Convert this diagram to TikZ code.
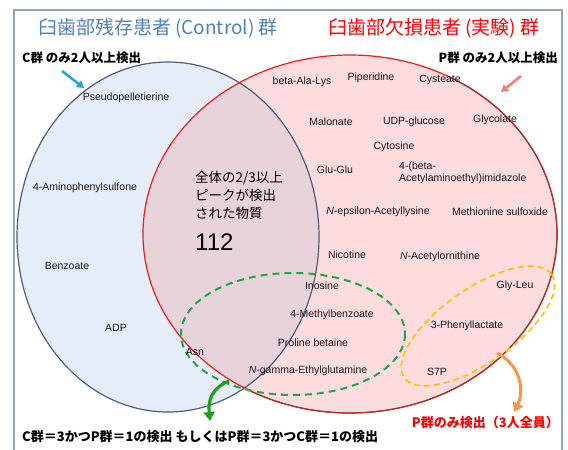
\documentclass[tikz,border=0pt]{standalone}
\usepackage{fontspec}
\setmainfont{Liberation Sans}
\newfontfamily\jp{Noto Sans CJK JP}
\usetikzlibrary{arrows.meta}
\definecolor{titleblue}{HTML}{4F81BD}
\definecolor{titlered}{HTML}{FF0000}
\definecolor{bluefill}{HTML}{E4EDF8}
\definecolor{pinkfill}{HTML}{FCDCDC}
\definecolor{overlapc}{HTML}{E8D3DA}
\definecolor{bluestroke}{HTML}{4E5F7D}
\definecolor{redstroke}{HTML}{F01C1C}
\definecolor{darkredc}{HTML}{A83232}
\definecolor{greendash}{HTML}{1FA84A}
\definecolor{greenarrow}{HTML}{1E9E1E}
\definecolor{yellowc}{HTML}{FFC000}
\definecolor{orangec}{HTML}{F79646}
\definecolor{cyanc}{HTML}{1DA5E0}
\definecolor{pinkarrow}{HTML}{F77B7B}
\definecolor{framec}{HTML}{8FA5C0}
\begin{document}
\begin{tikzpicture}[x=1pt,y=-1pt,
  lab/.style={font=\fontsize{10.5}{12}\selectfont, inner sep=0pt, text=black!90},
  title/.style={font=\jp\fontsize{19}{22}\selectfont, inner sep=0pt},
  note/.style={font=\jp\bfseries\fontsize{12.5}{14}\selectfont, inner sep=0pt},
  bignote/.style={font=\jp\bfseries\fontsize{13}{15}\selectfont, inner sep=0pt},
  pointer/.style={line width=2.5pt, -{Triangle[length=7pt,width=8pt]}},
  curvy/.style={line width=3.2pt, -{Triangle[length=9pt,width=11pt]}}
]
\useasboundingbox (0,0) rectangle (568,450);
% frame
\draw[framec, line width=1.2pt] (14,450) -- (14,10) -- (562,10) -- (562,450);
% set fills
\fill[bluefill] (168,237) ellipse [x radius=151, y radius=175];
\fill[pinkfill] (350,234) ellipse [x radius=207, y radius=179];
\begin{scope}
  \clip (168,237) ellipse [x radius=151, y radius=175];
  \fill[overlapc] (350,234) ellipse [x radius=207, y radius=179];
\end{scope}
% set outlines
\draw[bluestroke, line width=1.2pt] (168,237) ellipse [x radius=151, y radius=175];
\draw[redstroke, line width=1.2pt] (350,234) ellipse [x radius=207, y radius=179];
\draw[darkredc, line width=1.2pt] ([shift={(-60:207 and 179)}]350,234) arc[start angle=-60, end angle=120, x radius=207, y radius=179];
% dashed groups
\draw[greendash, line width=2pt, dash pattern=on 7pt off 5pt] (293,334) ellipse [x radius=112, y radius=61];
\draw[yellowc, line width=1.6pt, dash pattern=on 6pt off 4pt, rotate around={35:(478,326)}] (478,326) ellipse [x radius=90, y radius=37];
% titles
\node[title, text=titleblue] (t1) at (158,28) {臼歯部残存患者 (Control) 群};
\node[title, text=titlered] (t2) at (434,28) {臼歯部欠損患者 (実験) 群};
\node[note, anchor=west] (c2) at (22,58) {C群 のみ2人以上検出};
\node[note, anchor=east] (p2) at (558,58) {P群 のみ2人以上検出};
% metabolites
\node[lab] (m1) at (126,98) {Pseudopelletierine};
\node[lab] (m2) at (85,188) {4-Aminophenylsulfone};
\node[lab] (m3) at (67,266) {Benzoate};
\node[lab] (m4) at (116,328) {ADP};
\node[lab] (m5) at (195,352) {Asn};
\node[lab] (m6) at (302,82) {beta-Ala-Lys};
\node[lab] (m7) at (371,78) {Piperidine};
\node[lab] (m8) at (440,80) {Cysteate};
\node[lab] (m9) at (331,122) {Malonate};
\node[lab] (m10) at (414,122) {UDP-glucose};
\node[lab] (m11) at (495,120) {Glycolate};
\node[lab] (m12) at (394,147) {Cytosine};
\node[lab] (m13) at (335,170) {Glu-Glu};
\node[lab, anchor=north west, align=left] (m14) at (399,162) {4-(beta-\\Acetylaminoethyl)imidazole};
\node[lab] (m15) at (378,212) {\textit{N}-epsilon-Acetyllysine};
\node[lab] (m16) at (500,212) {Methionine sulfoxide};
\node[lab] (m17) at (347,255) {Nicotine};
\node[lab] (m18) at (440,257) {\textit{N}-Acetylornithine};
\node[lab] (m19) at (322,286) {Inosine};
\node[lab] (m20) at (332,315) {4-Methylbenzoate};
\node[lab] (m21) at (313,343) {Proline betaine};
\node[lab] (m22) at (308,371) {\textit{N}-gamma-Ethylglutamine};
\node[lab] (m23) at (515,286) {Gly-Leu};
\node[lab] (m24) at (467,326) {3-Phenyllactate};
\node[lab] (m25) at (437,372) {S7P};
% centre text
\node[font=\jp\fontsize{13.5}{18}\selectfont, anchor=north west, align=left, inner sep=0pt] (ctr) at (195,171) {全体の2/3以上\\ピークが検出\\された物質};
\node[font=\fontsize{24}{26}\selectfont, anchor=west, inner sep=0pt] (num) at (195,242) {112};
% bottom notes
\node[bignote, anchor=west] (b1) at (22,437) {C群＝3かつP群＝1の検出 もしくはP群＝3かつC群＝1の検出};
\node[bignote, anchor=east, text=titlered] (b2) at (559,423) {P群のみ検出（3人全員）};
% arrows
\coordinate (ca1) at (62,71); \coordinate (ca2) at (84,88);
\draw[cyanc, pointer] (ca1) -- (ca2);
\coordinate (pa1) at (521,76); \coordinate (pa2) at (501,92);
\draw[pinkarrow, pointer] (pa1) -- (pa2);
\coordinate (ga1) at (229,381); \coordinate (ga2) at (210,421);
\draw[greenarrow, curvy] (ga1) .. controls (212,388) and (208,400) .. (ga2);
\coordinate (oa1) at (497,353); \coordinate (oa2) at (514,412);
\draw[orangec, curvy, line width=3pt] (oa1) .. controls (522,366) and (524,392) .. (oa2);
\end{tikzpicture}
\end{document}
